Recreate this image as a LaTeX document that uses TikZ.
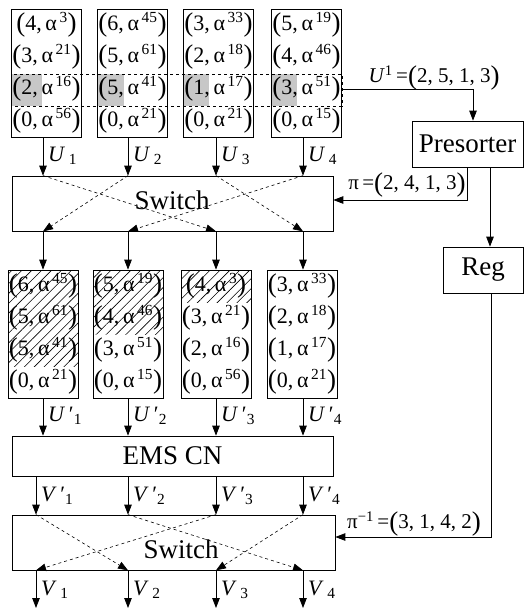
\documentclass[tikz,border=0pt]{standalone}
\usepackage{fontspec}
\setmainfont{Liberation Serif}
\usetikzlibrary{arrows.meta,patterns.meta}

\newcommand{\bpar}[1]{{\fontsize{27}{27}\selectfont\raisebox{-1.5pt}{#1}}}
\newcommand{\ent}[2]{\bpar{(}#1,\,α\textsuperscript{\,#2}\bpar{)}}
\newcommand{\ulab}[2]{\textit{#1}\,\textsubscript{#2}}
\newcommand{\uplab}[2]{\textit{#1}\,′\textsubscript{#2}}

\tikzset{
  colbox/.style={draw, line width=0.7pt, minimum width=70pt, minimum height=128pt,
    inner sep=0pt, align=center, font=\fontsize{22}{32}\selectfont},
  blk/.style={draw, line width=0.7pt, inner sep=0pt, font=\fontsize{27}{27}\selectfont},
  arr/.style={line width=0.8pt, -{Triangle[length=10pt,width=7.5pt]}},
  swl/.style={line width=0.6pt, dashed, -{Triangle[length=10pt,width=7.5pt]}},
  lbl/.style={anchor=west, inner sep=0pt, font=\fontsize{22}{22}\selectfont},
  eqlbl/.style={inner sep=0pt, font=\fontsize{21}{21}\selectfont},
  shade/.style={fill=black!22},
  hatch/.style={pattern={Lines[angle=45,distance=7pt,line width=0.6pt]}},
}

\begin{document}
\begin{tikzpicture}[x=1pt,y=-1pt]
  \useasboundingbox (0,0) rectangle (525,609);

  % column positions of the arrows
  \coordinate (a1) at (43,0);
  \coordinate (a2) at (128,0);
  \coordinate (a3) at (216,0);
  \coordinate (a4) at (303,0);
  \coordinate (b1) at (36,0);
  \coordinate (b2) at (128,0);
  \coordinate (b3) at (216,0);
  \coordinate (b4) at (303,0);
  \coordinate (rowtop) at (0,74);
  \coordinate (rowbot) at (0,106);
  \coordinate (rowmid) at (0,89);
  \coordinate (bot) at (0,608);

  % input columns
  \fill[shade] (11.5,74) rectangle ++(30,32);
  \fill[shade] (97.5,74) rectangle ++(26,32);
  \fill[shade] (183.5,74) rectangle ++(25,32);
  \fill[shade] (271.5,74) rectangle ++(25,32);
  \node[colbox] (tc1) at (46.5,73)  {\ent{4}{3}\\ \ent{3}{21}\\ \ent{2}{16}\\ \ent{0}{56}};
  \node[colbox] (tc2) at (132.5,73) {\ent{6}{45}\\ \ent{5}{61}\\ \ent{5}{41}\\ \ent{0}{21}};
  \node[colbox] (tc3) at (218.5,73) {\ent{3}{33}\\ \ent{2}{18}\\ \ent{1}{17}\\ \ent{0}{21}};
  \node[colbox] (tc4) at (306.5,73) {\ent{5}{19}\\ \ent{4}{46}\\ \ent{3}{51}\\ \ent{0}{15}};
  \draw[dashed, line width=0.7pt] (tc1.west |- rowtop) rectangle (tc4.east |- rowbot);

  % presorter and register
  \node[blk, minimum width=111pt, minimum height=46pt] (pre) at (467.5,144) {Presorter};
  \node[blk, minimum width=80pt, minimum height=46pt] (reg) at (483,270) {Reg};
  \node[eqlbl] (ulab) at (434,78) {\textit{U}\textsuperscript{1}\,=\bpar{(}2, 5, 1, 3\bpar{)}};
  \node[eqlbl] (pilab) at (407,185) {π\,=\bpar{(}2, 4, 1, 3\bpar{)}};
  \node[eqlbl] (pinvlab) at (414,524) {π\textsuperscript{−1}\,=\bpar{(}3, 1, 4, 2\bpar{)}};

  % switches and check node
  \node[blk, minimum width=321pt, minimum height=55pt] (sw1) at (172.5,203.5) {};
  \node[blk, draw=none] (sw1t) at (172,200) {Switch};
  \node[blk, minimum width=321pt, minimum height=40pt] (ems) at (172.5,456) {EMS CN};
  \node[blk, minimum width=323pt, minimum height=55pt] (sw2) at (173.5,542.5) {};
  \node[blk, draw=none] (sw2t) at (181,549) {Switch};

  % sorted columns
  \path[hatch] (8,270) rectangle (78,366);
  \path[hatch] (93,270) rectangle (163,334);
  \path[hatch] (181,270) rectangle (251,302);
  \node[colbox] (bc1) at (43,334)  {\ent{6}{45}\\ \ent{5}{61}\\ \ent{5}{41}\\ \ent{0}{21}};
  \node[colbox] (bc2) at (128,334) {\ent{5}{19}\\ \ent{4}{46}\\ \ent{3}{51}\\ \ent{0}{15}};
  \node[colbox] (bc3) at (216,334) {\ent{4}{3}\\ \ent{3}{21}\\ \ent{2}{16}\\ \ent{0}{56}};
  \node[colbox] (bc4) at (302,334) {\ent{3}{33}\\ \ent{2}{18}\\ \ent{1}{17}\\ \ent{0}{21}};

  % input columns to switch
  \draw[arr] (a1 |- tc1.south) -- (a1 |- sw1.north);
  \draw[arr] (a2 |- tc2.south) -- (a2 |- sw1.north);
  \draw[arr] (a3 |- tc3.south) -- (a3 |- sw1.north);
  \draw[arr] (a4 |- tc4.south) -- (a4 |- sw1.north);
  \node[lbl] (u1) at (48,156)  {\ulab{U}{1}};
  \node[lbl] (u2) at (133,156) {\ulab{U}{2}};
  \node[lbl] (u3) at (221,156) {\ulab{U}{3}};
  \node[lbl] (u4) at (308,156) {\ulab{U}{4}};

  \draw[swl] (a1 |- sw1.north) -- (a3 |- sw1.south);
  \draw[swl] (a2 |- sw1.north) -- (a1 |- sw1.south);
  \draw[swl] (a3 |- sw1.north) -- (a4 |- sw1.south);
  \draw[swl] (a4 |- sw1.north) -- (a2 |- sw1.south);

  \draw[arr] (a1 |- sw1.south) -- (a1 |- bc1.north);
  \draw[arr] (a2 |- sw1.south) -- (a2 |- bc2.north);
  \draw[arr] (a3 |- sw1.south) -- (a3 |- bc3.north);
  \draw[arr] (a4 |- sw1.south) -- (a4 |- bc4.north);

  % sorted columns to EMS CN
  \draw[arr] (a1 |- bc1.south) -- (a1 |- ems.north);
  \draw[arr] (a2 |- bc2.south) -- (a2 |- ems.north);
  \draw[arr] (a3 |- bc3.south) -- (a3 |- ems.north);
  \draw[arr] (a4 |- bc4.south) -- (a4 |- ems.north);
  \node[lbl] (up1) at (48,416)  {\uplab{U}{1}};
  \node[lbl] (up2) at (133,416) {\uplab{U}{2}};
  \node[lbl] (up3) at (221,416) {\uplab{U}{3}};
  \node[lbl] (up4) at (308,416) {\uplab{U}{4}};

  % EMS CN to switch
  \draw[arr] (b1 |- ems.south) -- (b1 |- sw2.north);
  \draw[arr] (b2 |- ems.south) -- (b2 |- sw2.north);
  \draw[arr] (b3 |- ems.south) -- (b3 |- sw2.north);
  \draw[arr] (b4 |- ems.south) -- (b4 |- sw2.north);
  \node[lbl] (vp1) at (41,496)  {\uplab{V}{1}};
  \node[lbl] (vp2) at (133,496) {\uplab{V}{2}};
  \node[lbl] (vp3) at (221,496) {\uplab{V}{3}};
  \node[lbl] (vp4) at (308,496) {\uplab{V}{4}};

  \draw[swl] (b1 |- sw2.north) -- (b2 |- sw2.south);
  \draw[swl] (b2 |- sw2.north) -- (b4 |- sw2.south);
  \draw[swl] (b3 |- sw2.north) -- (b1 |- sw2.south);
  \draw[swl] (b4 |- sw2.north) -- (b3 |- sw2.south);

  \draw[arr] (b1 |- sw2.south) -- (b1 |- bot);
  \draw[arr] (b2 |- sw2.south) -- (b2 |- bot);
  \draw[arr] (b3 |- sw2.south) -- (b3 |- bot);
  \draw[arr] (b4 |- sw2.south) -- (b4 |- bot);
  \node[lbl] (v1) at (41,590)  {\ulab{V}{1}};
  \node[lbl] (v2) at (133,590) {\ulab{V}{2}};
  \node[lbl] (v3) at (221,590) {\ulab{V}{3}};
  \node[lbl] (v4) at (308,590) {\ulab{V}{4}};

  % control path
  \draw[arr] (tc4.east |- rowmid) -| ([xshift=5.5pt]pre.north);
  \draw[arr] (pre.south) |- ([yshift=3.5pt]sw1.east);
  \draw[arr] ([xshift=22.5pt]pre.south) -- ([xshift=22.5pt]pre.south |- reg.north);
  \draw[arr] ([xshift=8pt]reg.south) |- ([yshift=5.5pt]sw2.east);
\end{tikzpicture}
\end{document}
